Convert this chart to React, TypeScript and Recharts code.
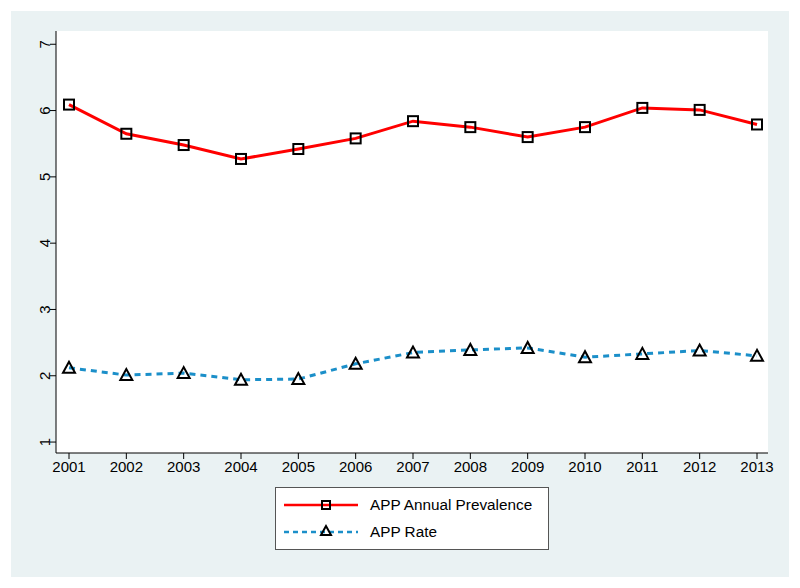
import React from 'react';
import { LineChart, Line, XAxis, YAxis, CartesianGrid, Legend } from 'recharts';

const years = ['2001', '2002', '2003', '2004', '2005', '2006', '2007', '2008', '2009', '2010', '2011', '2012', '2013'];
const annualPrevalence = [6.09, 5.65, 5.48, 5.27, 5.42, 5.58, 5.84, 5.75, 5.6, 5.75, 6.04, 6.01, 5.79];
const appRate = [2.12, 2.01, 2.04, 1.94, 1.95, 2.18, 2.35, 2.39, 2.42, 2.28, 2.33, 2.38, 2.3];
const yTicks = [1, 2, 3, 4, 5, 6, 7];
const gridValues = [2, 3, 4, 5, 6];

const RED = '#ff0000';
const BLUE = '#1b8fc9';
const FONT = 'Liberation Sans, Arial, sans-serif';

const data = years.map((y, i) => ({ year: y, prevalence: annualPrevalence[i], rate: appRate[i] }));

const SquareDot = (props: any) => {
  const { cx, cy, index } = props;
  return <rect key={`sq-${index}`} x={cx - 5} y={cy - 5} width={10} height={10} fill="none" stroke="#000" strokeWidth={2} />;
};

const TriangleDot = (props: any) => {
  const { cx, cy, index } = props;
  const pts = `${cx},${cy - 6} ${cx - 6},${cy + 5} ${cx + 6},${cy + 5}`;
  return <polygon key={`tr-${index}`} points={pts} fill="none" stroke="#000" strokeWidth={2} strokeLinejoin="miter" />;
};

// stata-style rotated y labels
const YTick = (props: any) => {
  const { x, y, payload } = props;
  const tx = x + 2;
  return (
    <text x={tx} y={y} transform={`rotate(-90, ${tx}, ${y})`} textAnchor="middle" fontSize={15} fontFamily={FONT} fill="#000">
      {payload.value}
    </text>
  );
};

const LegendBox = () => (
  <div style={{ width: 272, height: 61, background: '#fff', border: '1px solid #555', fontFamily: FONT, fontSize: 15.3, position: 'relative' }}>
    <svg width={90} height={61} style={{ position: 'absolute', left: 0, top: 0 }}>
      <line x1={8} y1={17} x2={82} y2={17} stroke={RED} strokeWidth={2.5} />
      <rect x={46} y={13} width={8} height={8} fill="none" stroke="#000" strokeWidth={2} />
      <line x1={8} y1={44} x2={82} y2={44} stroke={BLUE} strokeWidth={2.5} strokeDasharray="5 4" />
      <polygon points="50,38 45,47 55,47" fill="none" stroke="#000" strokeWidth={2} />
    </svg>
    <div style={{ position: 'absolute', left: 94, top: 8 }}>APP Annual Prevalence</div>
    <div style={{ position: 'absolute', left: 94, top: 35 }}>APP Rate</div>
  </div>
);

export default function App() {
  return (
    <div style={{ position: 'absolute', left: 0, top: 0, width: 800, height: 588, background: '#fff' }}>
      <div style={{ position: 'absolute', left: 11, top: 11, width: 778, height: 566, background: '#eaf2f3' }}>
        <LineChart width={778} height={566} data={data} margin={{ top: 20, right: 21, left: 0, bottom: 94 }}>
          <rect x={45} y={20} width={712} height={422} fill="#fff" />
          <CartesianGrid horizontal vertical={false} horizontalValues={gridValues} stroke="#dde7ea" strokeDasharray="6 5" />
          <XAxis
            dataKey="year"
            padding={{ left: 13, right: 11 }}
            height={30}
            tick={{ fontSize: 15, fontFamily: FONT, fill: '#000' }}
            tickSize={6}
            axisLine={{ stroke: '#000' }}
            tickLine={{ stroke: '#000' }}
            interval={0}
          />
          <YAxis
            width={45}
            domain={[0.835, 7.2]}
            ticks={yTicks}
            tick={<YTick />}
            tickSize={6}
            axisLine={{ stroke: '#000' }}
            tickLine={{ stroke: '#000' }}
            allowDataOverflow
          />
          <Legend
            layout="vertical"
            align="center"
            verticalAlign="middle"
            content={() => <LegendBox />}
            wrapperStyle={{ left: 264, top: 476, width: 274 }}
          />
          <Line
            dataKey="prevalence"
            stroke={RED}
            strokeWidth={3}
            dot={<SquareDot />}
            activeDot={false}
            isAnimationActive={false}
            name="APP Annual Prevalence"
          />
          <Line
            dataKey="rate"
            stroke={BLUE}
            strokeWidth={3}
            strokeDasharray="6 5"
            dot={<TriangleDot />}
            activeDot={false}
            isAnimationActive={false}
            name="APP Rate"
          />
        </LineChart>
      </div>
    </div>
  );
}
